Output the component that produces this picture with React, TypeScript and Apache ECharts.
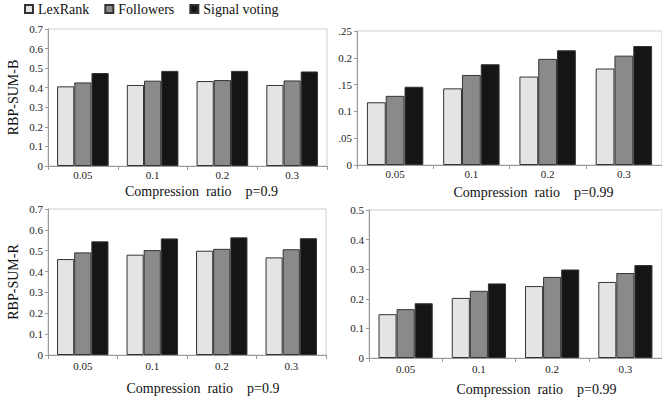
import React, { useEffect, useRef } from "react";
import * as echarts from "echarts";

const categories = ["0.05", "0.1", "0.2", "0.3"];
const seriesNames = ["LexRank", "Followers", "Signal voting"];

// RBP-SUM-B, p=0.9
const lexRankB09 = [0.407, 0.414, 0.434, 0.414];
const followersB09 = [0.427, 0.436, 0.439, 0.437];
const signalB09 = [0.475, 0.486, 0.486, 0.483];
// RBP-SUM-B, p=0.99
const lexRankB099 = [0.117, 0.143, 0.165, 0.18];
const followersB099 = [0.129, 0.168, 0.198, 0.204];
const signalB099 = [0.146, 0.188, 0.214, 0.222];
// RBP-SUM-R, p=0.9
const lexRankR09 = [0.46, 0.481, 0.5, 0.468];
const followersR09 = [0.492, 0.503, 0.509, 0.507];
const signalR09 = [0.545, 0.559, 0.564, 0.56];
// RBP-SUM-R, p=0.99
const lexRankR099 = [0.148, 0.203, 0.243, 0.257];
const followersR099 = [0.165, 0.227, 0.274, 0.287];
const signalR099 = [0.185, 0.252, 0.299, 0.314];

const tickLabelsB099 = ["0", ".05", "0.1", ".15", "0.2", ".25"];

const FONT = "Liberation Serif";
const COLORS = ["#e4e4e4", "#8a8a8a", "#151515"];

export default function App() {
  const ref = useRef<HTMLDivElement>(null);
  useEffect(() => {
    if (!ref.current) return;
    const chart = echarts.init(ref.current, undefined, { renderer: "svg" });

    const grids = [
      { left: 48, top: 29, width: 279, height: 137 },
      { left: 357, top: 31, width: 310, height: 134 },
      { left: 48, top: 209, width: 278, height: 146 },
      { left: 369, top: 210, width: 300, height: 148 },
    ].map((g) => ({ ...g, show: true, borderColor: "#cfcfcf", borderWidth: 1, backgroundColor: "transparent" }));

    const xNames = [
      "Compression\u00A0\u00A0ratio\u00A0\u00A0\u00A0\u00A0p=0.9",
      "Compression\u00A0\u00A0ratio\u00A0\u00A0\u00A0\u00A0p=0.99",
      "Compression\u00A0\u00A0ratio\u00A0\u00A0\u00A0\u00A0p=0.9",
      "Compression\u00A0\u00A0ratio\u00A0\u00A0\u00A0\u00A0p=0.99",
    ];
    const xMargins = [3, 3, 5, 5];
    const xNameGaps = [18, 20, 26, 24];
    const xNamePads = [
      [0, 0, 0, 28],
      [0, 0, 0, 48],
      [0, 0, 0, 32],
      [0, 0, 0, 42],
    ];

    const xAxis = [0, 1, 2, 3].map((i) => ({
      type: "category",
      gridIndex: i,
      data: categories,
      axisLine: { show: true, lineStyle: { color: "#9a9a9a", width: 1 } },
      axisTick: { show: true, length: 4, lineStyle: { color: "#9a9a9a" } },
      axisLabel: { color: "#222", fontSize: 11, fontFamily: FONT, margin: xMargins[i] },
      name: xNames[i],
      nameLocation: "middle",
      nameGap: xNameGaps[i],
      nameTextStyle: { color: "#111", fontSize: 14, fontFamily: FONT, padding: xNamePads[i] },
    }));

    const yCommon = {
      type: "value",
      splitLine: { show: false },
      axisLine: { show: true, lineStyle: { color: "#9a9a9a", width: 1 } },
      axisTick: { show: true, length: 3, lineStyle: { color: "#9a9a9a" } },
    };
    const labelStyle = { color: "#222", fontSize: 11, fontFamily: FONT, margin: 5 };
    const nameStyle = { color: "#111", fontSize: 14, fontFamily: FONT };

    const yAxis = [
      {
        ...yCommon, gridIndex: 0, min: 0, max: 0.7, interval: 0.1,
        axisLabel: { ...labelStyle, formatter: (v: number) => (v === 0 ? "0" : v.toFixed(1)) },
        name: "RBP-SUM-B", nameLocation: "middle", nameGap: 28, nameTextStyle: nameStyle,
      },
      {
        ...yCommon, gridIndex: 1, min: 0, max: 0.25, interval: 0.05,
        axisLabel: { ...labelStyle, formatter: (v: number) => tickLabelsB099[Math.round(v / 0.05)] },
      },
      {
        ...yCommon, gridIndex: 2, min: 0, max: 0.7, interval: 0.1,
        axisLabel: { ...labelStyle, formatter: (v: number) => (v === 0 ? "0" : v.toFixed(1)) },
        name: "RBP-SUM-R", nameLocation: "middle", nameGap: 28, nameTextStyle: nameStyle,
      },
      {
        ...yCommon, gridIndex: 3, min: 0, max: 0.5, interval: 0.1,
        axisLabel: { ...labelStyle, formatter: (v: number) => (v === 0 ? "0" : v.toFixed(1)) },
      },
    ];

    const panels = [
      [lexRankB09, followersB09, signalB09],
      [lexRankB099, followersB099, signalB099],
      [lexRankR09, followersR09, signalR09],
      [lexRankR099, followersR099, signalR099],
    ];

    const series: any[] = [];
    panels.forEach((vals, gi) => {
      vals.forEach((data, si) => {
        series.push({
          type: "bar",
          name: seriesNames[si],
          xAxisIndex: gi,
          yAxisIndex: gi,
          data,
          barGap: "0%",
          barCategoryGap: "26%",
          itemStyle: { color: COLORS[si], borderColor: "#333", borderWidth: 1 },
        });
      });
    });

    chart.setOption({
      animation: false,
      backgroundColor: "#fff",
      textStyle: { fontFamily: FONT },
      legend: {
        data: seriesNames,
        left: 24,
        top: 2,
        padding: 0,
        itemWidth: 8,
        itemHeight: 8,
        itemGap: 15,
        icon: "rect",
        textStyle: { color: "#111", fontSize: 14, fontFamily: FONT },
      },
      grid: grids,
      xAxis,
      yAxis,
      series,
    });
    return () => chart.dispose();
  }, []);
  return (
    <div
      ref={ref}
      style={{ position: "absolute", left: 0, top: 0, width: 662, height: 399, overflow: "hidden" }}
    />
  );
}
